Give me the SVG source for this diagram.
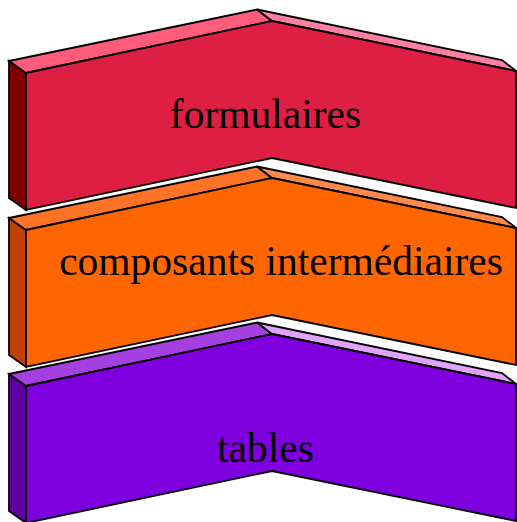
<svg xmlns="http://www.w3.org/2000/svg" width="517" height="522" viewBox="0 0 517 522">
<defs>
<style>
.s{stroke:#000;stroke-width:1.8;stroke-linejoin:miter}
.t{font-family:"Liberation Serif","Times New Roman",serif;font-size:41.5px;fill:#000;text-anchor:middle}
.r1{fill:#800000}.r2{fill:#FF5C7C}.r3{fill:#FF80A0}.r4{fill:#DD1F44}
.o1{fill:#C04000}.o2{fill:#FF7326}.o3{fill:#FF8A4A}.o4{fill:#FF6600}
.p1{fill:#5F00A0}.p2{fill:#A440E0}.p3{fill:#E0A4FF}.p4{fill:#7F00DF}
</style>
</defs>
<g id="node-formulaires">
<polygon class="s r1" points="9,61 26,73 26,210 9,198"/>
<polygon class="s r2" points="9,61 257,9.5 272,21 26,73"/>
<polygon class="s r3" points="257,9.5 502,60 516,71 272,21"/>
<polygon class="s r4" points="26,73 272,21 516,71 516,208 272,158 26,210"/>
<text class="t" x="265.5" y="128">formulaires</text>
</g>
<g id="node-composants" transform="translate(0,157)">
<polygon class="s o1" points="9,61 26,73 26,210 9,198"/>
<polygon class="s o2" points="9,61 257,9.5 272,21 26,73"/>
<polygon class="s o3" points="257,9.5 502,60 516,71 272,21"/>
<polygon class="s o4" points="26,73 272,21 516,71 516,208 272,158 26,210"/>
<text class="t" x="281" y="118">composants intermédiaires</text>
</g>
<g id="node-tables" transform="translate(0,313)">
<polygon class="s p1" points="9,61 26,73 26,210 9,198"/>
<polygon class="s p2" points="9,61 257,9.5 272,21 26,73"/>
<polygon class="s p3" points="257,9.5 502,60 516,71 272,21"/>
<polygon class="s p4" points="26,73 272,21 516,71 516,208 272,158 26,210"/>
<text class="t" x="265.5" y="149">tables</text>
</g>
<g id="connectors"></g>
</svg>
